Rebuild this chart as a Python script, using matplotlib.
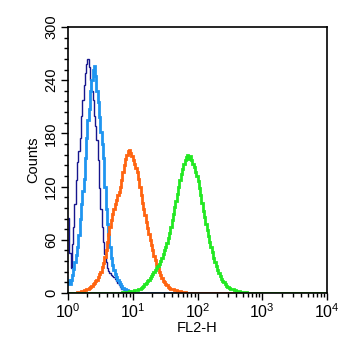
import numpy as np
import matplotlib
matplotlib.use("Agg")
import matplotlib.pyplot as plt
from matplotlib.ticker import LogLocator, MultipleLocator

plt.rcParams['font.family'] = ['Liberation Sans', 'DejaVu Sans']
plt.rcParams['mathtext.fontset'] = 'custom'
plt.rcParams['mathtext.rm'] = 'Liberation Sans'
plt.rcParams['mathtext.it'] = 'Liberation Sans'

# 200 channels over 4 decades (50 per decade), FL2-H from 10^0 to 10^4
n_channels = 200
decades = (0, 4)

navy_counts = [
    85, 45, 28, 55, 75, 100, 128, 148, 160, 175,
    200, 218, 235, 248, 258, 264, 255, 240, 228, 218,
    200, 188, 172, 150, 118, 95, 75, 58, 44, 35,
    28, 25, 22, 20, 19, 18, 16, 13, 11, 9,
    7, 5, 4, 3, 2, 1, 1, 0, 0, 0,
    0, 0, 0, 0, 0, 0, 0, 0, 0, 0,
    0, 0, 0, 0, 0, 0, 0, 0, 0, 0,
    0, 0, 0, 0, 0, 0, 0, 0, 0, 0,
    0, 0, 0, 0, 0, 0, 0, 0, 0, 0,
    0, 0, 0, 0, 0, 0, 0, 0, 0, 0,
    0, 0, 0, 0, 0, 0, 0, 0, 0, 0,
    0, 0, 0, 0, 0, 0, 0, 0, 0, 0,
    0, 0, 0, 0, 0, 0, 0, 0, 0, 0,
    0, 0, 0, 0, 0, 0, 0, 0, 0, 0,
    0, 0, 0, 0, 0, 0, 0, 0, 0, 0,
    0, 0, 0, 0, 0, 0, 0, 0, 0, 0,
    0, 0, 0, 0, 0, 0, 0, 0, 0, 0,
    0, 0, 0, 0, 0, 0, 0, 0, 0, 0,
    0, 0, 0, 0, 0, 0, 0, 0, 0, 0,
    0, 0, 0, 0, 0, 0, 0, 0, 0, 0,
]

lightblue_counts = [
    15, 10, 15, 20, 27, 35, 43, 52, 65, 84,
    100, 115, 129, 152, 175, 195, 208, 228, 240, 252,
    256, 245, 228, 215, 198, 182, 168, 152, 120, 95,
    78, 65, 52, 40, 32, 26, 21, 18, 15, 12,
    10, 8, 6, 5, 4, 3, 2, 2, 1, 1,
    0, 0, 0, 0, 0, 0, 0, 0, 0, 0,
    0, 0, 0, 0, 0, 0, 0, 0, 0, 0,
    0, 0, 0, 0, 0, 0, 0, 0, 0, 0,
    0, 0, 0, 0, 0, 0, 0, 0, 0, 0,
    0, 0, 0, 0, 0, 0, 0, 0, 0, 0,
    0, 0, 0, 0, 0, 0, 0, 0, 0, 0,
    0, 0, 0, 0, 0, 0, 0, 0, 0, 0,
    0, 0, 0, 0, 0, 0, 0, 0, 0, 0,
    0, 0, 0, 0, 0, 0, 0, 0, 0, 0,
    0, 0, 0, 0, 0, 0, 0, 0, 0, 0,
    0, 0, 0, 0, 0, 0, 0, 0, 0, 0,
    0, 0, 0, 0, 0, 0, 0, 0, 0, 0,
    0, 0, 0, 0, 0, 0, 0, 0, 0, 0,
    0, 0, 0, 0, 0, 0, 0, 0, 0, 0,
    0, 0, 0, 0, 0, 0, 0, 0, 0, 0,
]

orange_counts = [
    0, 0, 0, 0, 0, 0, 0, 1, 1, 1,
    2, 2, 3, 3, 4, 5, 6, 7, 8, 10,
    11, 13, 15, 18, 21, 24, 29, 34, 41, 49,
    58, 66, 74, 82, 89, 95, 100, 105, 110, 114,
    119, 127, 136, 144, 151, 156, 160, 161, 158, 155,
    150, 146, 141, 136, 129, 120, 111, 102, 95, 88,
    80, 73, 66, 60, 54, 48, 42, 37, 32, 28,
    24, 20, 17, 14, 12, 10, 9, 7, 6, 5,
    4, 4, 3, 3, 2, 2, 2, 1, 1, 1,
    1, 0, 0, 0, 0, 0, 0, 0, 0, 0,
    0, 0, 0, 0, 0, 0, 0, 0, 0, 0,
    0, 0, 0, 0, 0, 0, 0, 0, 0, 0,
    0, 0, 0, 0, 0, 0, 0, 0, 0, 0,
    0, 0, 0, 0, 0, 0, 0, 0, 0, 0,
    0, 0, 0, 0, 0, 0, 0, 0, 0, 0,
    0, 0, 0, 0, 0, 0, 0, 0, 0, 0,
    0, 0, 0, 0, 0, 0, 0, 0, 0, 0,
    0, 0, 0, 0, 0, 0, 0, 0, 0, 0,
    0, 0, 0, 0, 0, 0, 0, 0, 0, 0,
    0, 0, 0, 0, 0, 0, 0, 0, 0, 0,
]

green_counts = [
    0, 0, 0, 0, 0, 0, 0, 0, 0, 0,
    0, 0, 0, 0, 0, 0, 0, 0, 0, 0,
    0, 0, 0, 0, 0, 0, 0, 0, 0, 0,
    0, 0, 0, 0, 0, 0, 0, 0, 0, 0,
    0, 0, 1, 1, 1, 1, 1, 2, 2, 2,
    2, 3, 3, 3, 4, 5, 6, 7, 8, 10,
    11, 13, 15, 17, 19, 21, 24, 26, 28, 30,
    33, 36, 40, 44, 48, 52, 56, 62, 68, 75,
    82, 89, 97, 104, 112, 120, 127, 134, 140, 145,
    150, 153, 156, 151, 155, 150, 146, 142, 137, 132,
    126, 118, 110, 101, 93, 86, 78, 71, 64, 58,
    52, 46, 40, 35, 30, 26, 22, 19, 16, 14,
    12, 10, 8, 7, 6, 5, 4, 4, 3, 3,
    2, 2, 2, 1, 1, 1, 1, 1, 0, 0,
    0, 0, 0, 0, 0, 0, 0, 0, 0, 0,
    0, 0, 0, 0, 0, 0, 0, 0, 0, 0,
    0, 0, 0, 0, 0, 0, 0, 0, 0, 0,
    0, 0, 0, 0, 0, 0, 0, 0, 0, 0,
    0, 0, 0, 0, 0, 0, 0, 0, 0, 0,
    0, 0, 0, 0, 0, 0, 0, 0, 0, 0,
]

y_ticks = [0, 60, 120, 180, 240, 300]
x_ticks = [1, 10, 100, 1000, 10000]
x_tick_labels = [r'$\mathregular{10^0}$', r'$\mathregular{10^1}$', r'$\mathregular{10^2}$',
                 r'$\mathregular{10^3}$', r'$\mathregular{10^4}$']

edges = np.logspace(decades[0], decades[1], n_channels + 1)

fig = plt.figure(figsize=(3.5, 3.5), dpi=100)
ax = fig.add_axes([68/350, 1 - 293/350, (327 - 68)/350, (293 - 27)/350])

series = [
    (navy_counts, '#16168e', 1.0),
    (lightblue_counts, '#1f95f0', 2.0),
    (orange_counts, '#ff6410', 2.0),
    (green_counts, '#22e822', 2.0),
]
for counts, color, lw in series:
    ax.stairs(counts, edges, color=color, linewidth=lw, baseline=None)

ax.set_xscale('log')
ax.set_xlim(1, 10000)
ax.set_ylim(0, 300)

ax.set_yticks(y_ticks)
ax.set_yticklabels([str(t) for t in y_ticks], rotation=90, va='center', fontsize=10.5)
ax.yaxis.set_minor_locator(MultipleLocator(12))
ax.set_xticks(x_ticks)
ax.set_xticklabels(x_tick_labels, fontsize=11.5)
ax.xaxis.set_minor_locator(LogLocator(base=10, subs=np.arange(2, 10), numticks=20))

ax.tick_params(which='major', direction='out', length=5, width=1, colors='black', pad=2)
ax.tick_params(which='minor', direction='out', length=3, width=1)

for s in ax.spines.values():
    s.set_linewidth(1.2)
    s.set_color('black')

ax.set_xlabel('FL2-H', fontsize=10.5, labelpad=0)
ax.set_ylabel('Counts', fontsize=10.5, labelpad=3)

fig.savefig('out.png', dpi=100, facecolor='white')
